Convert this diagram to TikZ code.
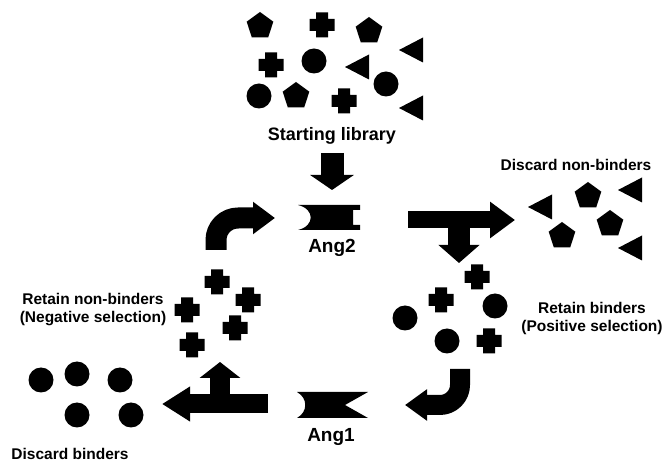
\documentclass[tikz,border=0pt]{standalone}
\usepackage{fontspec}
\setmainfont{Liberation Sans}
\usetikzlibrary{arrows.meta,positioning}
\newcommand{\plusmark}[2]{\fill (#1,#2) +(-12.5,-6) rectangle +(12.5,6) +(-6,-12.5) rectangle +(6,12.5);}
\newcommand{\pentmark}[2]{\fill (#1,#2) +(-90:14) -- +(-18:14) -- +(54:14) -- +(126:14) -- +(198:14) -- cycle;}
\newcommand{\trimark}[2]{\fill (#1,#2) +(-12,0) -- +(12,-12.5) -- +(12,12.5) -- cycle;}
\newcommand{\dotmark}[2]{\fill (#1,#2) circle[radius=12.5];}

\begin{document}
\begin{tikzpicture}[x=1pt,y=-1pt]
\tikzset{
 lbl/.style={font=\bfseries\fontsize{15.5}{18}\selectfont,align=center,inner sep=0pt},
 big/.style={font=\bfseries\fontsize{18}{20}\selectfont,inner sep=0pt},
 blk/.style={line width=#1pt,line join=round}
}
\fill[white] (0,0) rectangle (665,462);
\useasboundingbox (0,0) rectangle (665,462);

% starting library
\foreach \x/\y in {260/26,369/31,296/96}{\pentmark{\x}{\y}}
\foreach \x/\y in {322/25,271/65,344/101}{\plusmark{\x}{\y}}
\foreach \x/\y in {314/61,386/84,259/96}{\dotmark{\x}{\y}}
\foreach \x/\y in {411/50,357/67,411/108}{\trimark{\x}{\y}}
\node[big] (start) at (332,136) {Starting library};

% discarded non-binders
\foreach \x/\y in {588/196,610/224,562/236}{\pentmark{\x}{\y}}
\foreach \x/\y in {540/207,630/190,630/248}{\trimark{\x}{\y}}
\node[lbl] (dnb) at (576,165) {Discard non-binders};

% retained binders
\foreach \x/\y in {477/277,441/300,489/341}{\plusmark{\x}{\y}}
\foreach \x/\y in {495/306,405/318,447/341}{\dotmark{\x}{\y}}
\node[lbl] (rb) at (592,318) {Retain binders\\(Positive selection)};

% retained non-binders
\foreach \x/\y in {217/282,248/300,187/310,235/328,192/345}{\plusmark{\x}{\y}}
\node[lbl] (rnb) at (93,310) {Retain non-binders\\(Negative selection)};

% discarded binders
\foreach \x/\y in {41/380,77/374,120/380,77/415,131/415}{\dotmark{\x}{\y}}
\node[lbl] (db) at (70,454) {Discard binders};

% targets
\fill (298,205) -- (360,205) -- (360,210) -- (353,210) -- (353,225) -- (360,225) -- (360,230) -- (298,230)
  .. controls (315,226) and (315,209) .. (298,205) -- cycle;
\node[big,font=\bfseries\fontsize{19}{21}\selectfont] (ang2) at (332,248) {Ang2};
\fill (297,392) -- (368,392) -- (345,405) -- (368,418) -- (297,418)
  .. controls (308,412) and (308,398) .. (297,392) -- cycle;
\node[big,font=\bfseries\fontsize{19}{21}\selectfont] (ang1) at (331,437) {Ang1};

% arrows
\coordinate (a1) at (332,153); \coordinate (a2) at (332,190);
\coordinate (b1) at (216,250); \coordinate (b2) at (275,218);
\coordinate (c1) at (408,220); \coordinate (c2) at (515,220);
\coordinate (c3) at (459,220); \coordinate (c4) at (459,263);
\coordinate (d1) at (460,369); \coordinate (d2) at (405,405);
\coordinate (e1) at (268,404); \coordinate (e2) at (162,404);
\coordinate (e3) at (220,404); \coordinate (e4) at (220,362);
\draw[blk=23,-{Triangle[length=15pt,width=43pt]}] (a1) -- (a2);
\draw[blk=21,rounded corners=22pt,-{Triangle[length=22pt,width=31pt]}] (b1) |- (b2);
\draw[blk=17,-{Triangle[length=25pt,width=35pt]}] (c1) -- (c2);
\draw[blk=22,-{Triangle[length=18pt,width=40pt]}] (c3) -- (c4);
\draw[blk=20,rounded corners=20pt,-{Triangle[length=22pt,width=30pt]}] (d1) |- (d2);
\draw[blk=19,-{Triangle[length=28pt,width=33pt]}] (e1) -- (e2);
\draw[blk=20,-{Triangle[length=16pt,width=40pt]}] (e3) -- (e4);
\end{tikzpicture}
\end{document}
